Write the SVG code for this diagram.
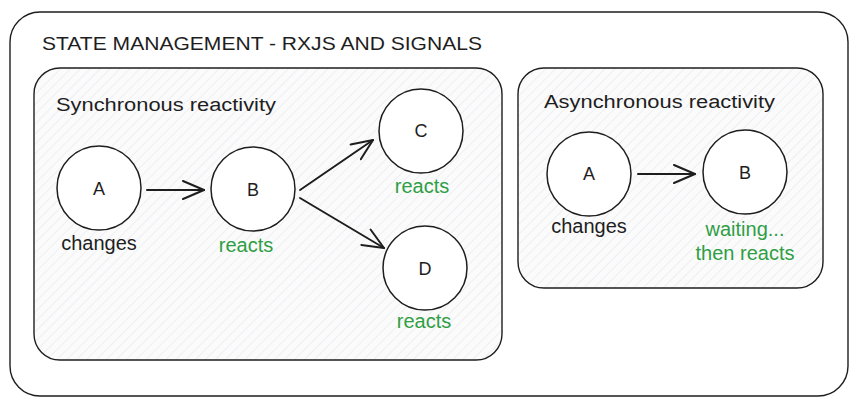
<svg xmlns="http://www.w3.org/2000/svg" width="860" height="408" viewBox="0 0 860 408">
<defs>
<pattern id="hatch" patternUnits="userSpaceOnUse" width="7" height="7" patternTransform="rotate(45)">
<rect width="7" height="7" fill="#fbfbfc"/>
<line x1="0" y1="0" x2="0" y2="7" stroke="#e2e4e7" stroke-width="1"/>
</pattern>
<marker id="arr" viewBox="0 0 24 20" refX="22" refY="10" markerWidth="24" markerHeight="20" markerUnits="userSpaceOnUse" orient="auto">
<path d="M1,1 L22,10 L1,19" fill="none" stroke="#1e1e1e" stroke-width="2" stroke-linecap="round" stroke-linejoin="round"/>
</marker>
</defs>
<style>
.box{stroke:#1e1e1e;stroke-width:1.4;}
.node circle{fill:#ffffff;stroke:#1e1e1e;stroke-width:1.5;}
.t{font-family:"Liberation Sans","Open Sans",sans-serif;fill:#1e1e1e;}
.lbl{font-size:18px;text-anchor:middle;}
.sub{font-size:20px;text-anchor:middle;}
.g{fill:#2f9e44;}
.edge{fill:none;stroke:#1e1e1e;stroke-width:2;stroke-linecap:round;}
</style>
<rect width="860" height="408" fill="#ffffff"/>
<g id="outer">
<rect class="box" x="10" y="12" width="838" height="384" rx="30" fill="#ffffff"/>
<text class="t" x="42" y="50" font-size="19" textLength="440" lengthAdjust="spacingAndGlyphs">STATE MANAGEMENT - RXJS AND SIGNALS</text>
</g>
<g id="sync">
<rect class="box" x="34" y="68" width="468" height="292" rx="26" fill="url(#hatch)"/>
<text class="t" x="56" y="111" font-size="18" textLength="220" lengthAdjust="spacingAndGlyphs">Synchronous reactivity</text>
</g>
<g id="async">
<rect class="box" x="518" y="68" width="305" height="220" rx="26" fill="url(#hatch)"/>
<text class="t" x="544" y="108" font-size="18" textLength="231" lengthAdjust="spacingAndGlyphs">Asynchronous reactivity</text>
</g>
<g id="connectors">
<line class="edge" x1="147" y1="190" x2="204" y2="190" marker-end="url(#arr)"/>
<line class="edge" x1="300" y1="190" x2="373" y2="140" marker-end="url(#arr)"/>
<line class="edge" x1="300" y1="198" x2="384" y2="248" marker-end="url(#arr)"/>
<line class="edge" x1="638" y1="174" x2="695" y2="174" marker-end="url(#arr)"/>
</g>
<g id="sA" class="node">
<circle cx="99" cy="188" r="42"/>
<text class="t lbl" x="99" y="195">A</text>
<text class="t sub" x="99" y="250">changes</text>
</g>
<g id="sB" class="node">
<circle cx="253" cy="189" r="42"/>
<text class="t lbl" x="253" y="196">B</text>
<text class="t sub g" x="246" y="252">reacts</text>
</g>
<g id="sC" class="node">
<circle cx="421" cy="131" r="42"/>
<text class="t lbl" x="421" y="137">C</text>
<text class="t sub g" x="422" y="193">reacts</text>
</g>
<g id="sD" class="node">
<circle cx="425" cy="268" r="42"/>
<text class="t lbl" x="425" y="275">D</text>
<text class="t sub g" x="424" y="328">reacts</text>
</g>
<g id="aA" class="node">
<circle cx="589" cy="174" r="42"/>
<text class="t lbl" x="589" y="180">A</text>
<text class="t sub" x="589" y="233">changes</text>
</g>
<g id="aB" class="node">
<circle cx="745" cy="172" r="42"/>
<text class="t lbl" x="745" y="179">B</text>
<text class="t sub g" x="745" y="236">waiting...</text>
<text class="t sub g" x="745" y="260">then reacts</text>
</g>
</svg>
